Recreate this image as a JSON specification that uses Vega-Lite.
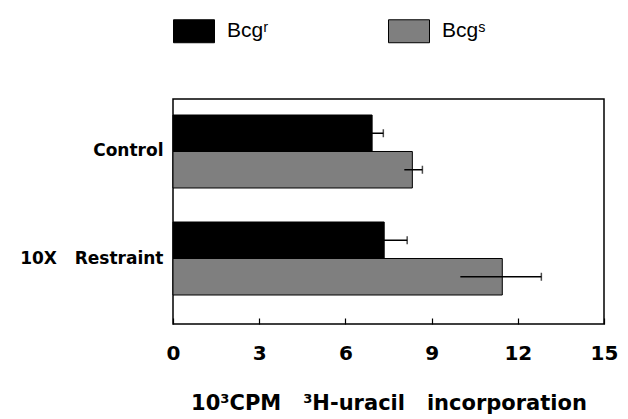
{
  "$schema": "https://vega.github.io/schema/vega-lite/v6.json",
  "autosize": {"type": "none"},
  "width": 431,
  "height": 225,
  "padding": {"left": 173, "top": 99, "right": 24, "bottom": 95},
  "background": "white",
  "config": {
    "view": {"stroke": "black", "strokeWidth": 1.5},
    "font": "DejaVu Sans"
  },
  "data": {
    "values": [
      {"group": "Control", "strain": "Bcgʳ", "value": 6.93, "lo": 6.54, "hi": 7.32},
      {"group": "Control", "strain": "Bcgˢ", "value": 8.33, "lo": 8.05, "hi": 8.68},
      {"group": "10X\u00a0\u00a0\u00a0Restraint", "strain": "Bcgʳ", "value": 7.35, "lo": 6.55, "hi": 8.15},
      {"group": "10X\u00a0\u00a0\u00a0Restraint", "strain": "Bcgˢ", "value": 11.46, "lo": 10.0, "hi": 12.82}
    ]
  },
  "encoding": {
    "y": {
      "field": "group", "type": "nominal",
      "sort": ["Control", "10X\u00a0\u00a0\u00a0Restraint"],
      "scale": {"range": [16, 196], "paddingInner": 0.318, "paddingOuter": 0},
      "axis": {
        "title": null, "domain": false, "ticks": false,
        "labelFont": "DejaVu Sans", "labelFontWeight": "bold", "labelFontSize": 17,
        "labelColor": "black", "labelPadding": 10
      }
    },
    "yOffset": {
      "field": "strain", "type": "nominal",
      "sort": ["Bcgʳ", "Bcgˢ"],
      "scale": {"paddingInner": 0, "paddingOuter": 0}
    }
  },
  "layer": [
    {
      "mark": {"type": "bar", "stroke": "black", "strokeWidth": 1},
      "encoding": {
        "x": {
          "field": "value", "type": "quantitative",
          "scale": {"domain": [0, 15], "nice": false},
          "axis": {
            "values": [0, 3, 6, 9, 12, 15],
            "title": "10³CPM\u00a0\u00a0 ³H-uracil\u00a0\u00a0 incorporation",
            "titleFont": "DejaVu Sans", "titleFontWeight": "bold", "titleFontSize": 21,
            "titleColor": "black", "titlePadding": 29,
            "labelFont": "DejaVu Sans", "labelFontWeight": "bold", "labelFontSize": 20,
            "labelColor": "black", "labelPadding": 19,
            "offset": -6,
            "domain": false, "tickSize": 6, "tickColor": "black", "tickWidth": 1.2,
            "grid": false, "labelFlush": false
          }
        },
        "fill": {
          "field": "strain", "type": "nominal",
          "scale": {"domain": ["Bcgʳ", "Bcgˢ"], "range": ["#000000", "#7f7f7f"]},
          "legend": {
            "title": null, "orient": "none", "direction": "horizontal",
            "legendX": 0, "legendY": -89, "padding": 0,
            "symbolType": "M-1,-0.56H1V0.56H-1Z", "symbolSize": 1681,
            "symbolStrokeColor": "black", "symbolStrokeWidth": 1,
            "labelFont": "Liberation Sans", "labelFontSize": 21, "labelColor": "black",
            "labelOffset": 12, "columnPadding": 117
          }
        }
      }
    },
    {
      "mark": {"type": "rule", "color": "black", "strokeWidth": 1.5},
      "encoding": {
        "x": {"field": "lo", "type": "quantitative"},
        "x2": {"field": "hi"}
      }
    },
    {
      "mark": {"type": "tick", "color": "black", "thickness": 1.5, "size": 8, "orient": "vertical"},
      "encoding": {
        "x": {"field": "hi", "type": "quantitative"}
      }
    }
  ]
}
